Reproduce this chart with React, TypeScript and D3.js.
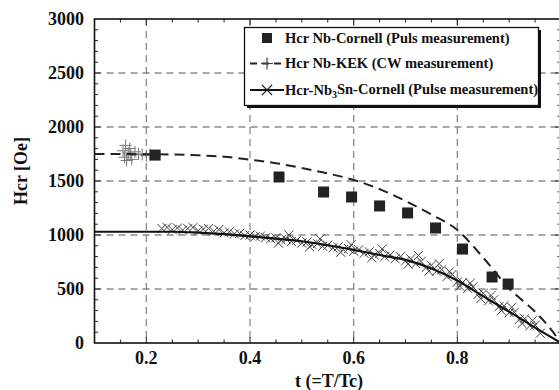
import * as d3 from "d3";
import { useEffect, useRef } from "react";

const W = 559;
const H = 390;
const plot = { left: 94.5, right: 561, top: 19, bottom: 343 };

// Hcr Nb-Cornell (pulse) squares
const cornellT = [0.217, 0.456, 0.542, 0.596, 0.65, 0.704, 0.758, 0.81, 0.867, 0.898];
const cornellH = [1740, 1537, 1398, 1352, 1269, 1204, 1065, 870, 611, 546];

// Hcr Nb-KEK (CW) fitted dashed curve and plus markers
const kekCurveT = [0.1, 0.2, 0.3, 0.35, 0.4, 0.45, 0.5, 0.55, 0.6, 0.65, 0.7, 0.75, 0.8, 0.85, 0.9, 0.95, 0.975, 1.0];
const kekCurveH = [1750, 1748, 1738, 1725, 1697, 1665, 1620, 1570, 1510, 1425, 1315, 1190, 1046, 790, 505, 290, 160, 0];
const kekPlusT = [0.155, 0.158, 0.16, 0.162, 0.165, 0.168, 0.17, 0.172, 0.178, 0.185, 0.192, 0.2, 0.207];
const kekPlusH = [1780, 1720, 1830, 1690, 1760, 1800, 1740, 1700, 1770, 1750, 1745, 1735, 1745];

// Hcr Nb3Sn-Cornell (pulse) line and cross markers
const snCurveT = [0.1, 0.2, 0.25, 0.3, 0.35, 0.4, 0.45, 0.5, 0.55, 0.6, 0.65, 0.7, 0.75, 0.8, 0.85, 0.9, 0.95, 1.0];
const snCurveH = [1030, 1030, 1030, 1022, 1008, 988, 966, 942, 905, 862, 815, 770, 690, 578, 432, 290, 142, 0];
const snCrossT = [
  0.23, 0.24, 0.25, 0.26, 0.27, 0.28, 0.29, 0.3, 0.31, 0.32, 0.33, 0.34, 0.35, 0.36, 0.37, 0.38,
  0.39, 0.4, 0.41, 0.42, 0.43, 0.44, 0.45, 0.46, 0.47, 0.48, 0.49, 0.5, 0.51, 0.52, 0.53, 0.54,
  0.55, 0.56, 0.57, 0.58, 0.59, 0.6, 0.61, 0.62, 0.63, 0.64, 0.65, 0.66, 0.67, 0.68, 0.69, 0.7,
  0.71, 0.72, 0.73, 0.74, 0.75, 0.76, 0.77, 0.78, 0.79, 0.8, 0.81, 0.82, 0.83, 0.84, 0.85, 0.86,
  0.87, 0.88, 0.89, 0.9, 0.91, 0.92, 0.93, 0.94, 0.95,
  0.455, 0.475, 0.515, 0.535, 0.575, 0.595, 0.635, 0.655, 0.705, 0.725, 0.745, 0.765, 0.785,
  0.805, 0.825, 0.845, 0.865, 0.885, 0.905, 0.925, 0.945, 0.96,
];
const snCrossH = [
  1060, 1070, 1050, 1065, 1045, 1060, 1070, 1040, 1055, 1060, 1035, 1050, 1020, 1030, 1010, 1015,
  995, 1000, 985, 990, 975, 965, 975, 955, 960, 940, 950, 925, 935, 910, 920, 895,
  905, 880, 890, 865, 875, 850, 865, 830, 845, 815, 830, 800, 815, 780, 800, 760,
  780, 735, 755, 700, 720, 665, 680, 615, 635, 565, 560, 505, 520, 450, 460, 390,
  400, 335, 345, 280, 285, 220, 225, 160, 165,
  925, 1000, 890, 965, 840, 910, 790, 870, 730, 810, 665, 735, 660, 525, 555, 410, 440, 300, 330, 180, 210, 90,
];

const xTicks = [0.2, 0.4, 0.6, 0.8];
const yTicks = [0, 500, 1000, 1500, 2000, 2500, 3000];

const legendLabels = [
  "Hcr Nb-Cornell (Puls measurement)",
  "Hcr Nb-KEK (CW measurement)",
  "Hcr-Nb3Sn-Cornell (Pulse measurement)",
];

const font = "'Liberation Serif', 'Times New Roman', serif";

function plusPath(r: number) {
  return `M${-r},0H${r}M0,${-r}V${r}`;
}

function drawChart(node: SVGSVGElement) {
  const svg = d3.select(node);
  svg.selectAll("*").remove();

  const x = d3.scaleLinear().domain([0.1, 1.0]).range([plot.left, plot.right]);
  const y = d3.scaleLinear().domain([0, 3000]).range([plot.bottom, plot.top]);

  svg.append("rect").attr("width", W).attr("height", H).attr("fill", "white");

  svg
    .append("defs")
    .append("clipPath")
    .attr("id", "plotclip")
    .append("rect")
    .attr("x", plot.left)
    .attr("y", plot.top)
    .attr("width", plot.right - plot.left)
    .attr("height", plot.bottom - plot.top + 2);

  // grid
  const grid = svg.append("g").attr("stroke", "#8a8a8a").attr("stroke-width", 1.3).attr("stroke-dasharray", "7,5");
  xTicks.forEach((t) => {
    grid.append("line").attr("x1", x(t)).attr("x2", x(t)).attr("y1", plot.top).attr("y2", plot.bottom);
  });
  yTicks.slice(1, -1).forEach((v) => {
    grid.append("line").attr("x1", plot.left).attr("x2", plot.right).attr("y1", y(v)).attr("y2", y(v));
  });

  // minor/major ticks, inward on all sides
  const ticks = svg.append("g").attr("stroke", "#222").attr("stroke-width", 1);
  d3.range(0.15, 1.0, 0.05).forEach((t) => {
    const major = Math.abs(Math.round(t * 10) - t * 10) < 1e-6 && Math.round(t * 10) % 2 === 0;
    const len = major ? 6 : 3.5;
    ticks.append("line").attr("x1", x(t)).attr("x2", x(t)).attr("y1", plot.bottom).attr("y2", plot.bottom - len);
    ticks.append("line").attr("x1", x(t)).attr("x2", x(t)).attr("y1", plot.top).attr("y2", plot.top + len);
  });
  d3.range(100, 3000, 100).forEach((v) => {
    const len = v % 500 === 0 ? 6 : 3.5;
    ticks.append("line").attr("x1", plot.left).attr("x2", plot.left + len).attr("y1", y(v)).attr("y2", y(v));
    ticks.append("line").attr("x1", plot.right - len).attr("x2", plot.right).attr("y1", y(v)).attr("y2", y(v));
  });

  // frame
  svg
    .append("rect")
    .attr("x", plot.left)
    .attr("y", plot.top)
    .attr("width", plot.right - plot.left)
    .attr("height", plot.bottom - plot.top)
    .attr("fill", "none")
    .attr("stroke", "#111")
    .attr("stroke-width", 1.6);

  // tick labels
  const labels = svg.append("g").attr("font-family", font).attr("font-weight", "bold").attr("font-size", 18).attr("fill", "#111");
  yTicks.forEach((v) => {
    labels.append("text").attr("x", 84).attr("y", y(v)).attr("dy", "0.34em").attr("text-anchor", "end").text(v);
  });
  xTicks.forEach((t) => {
    labels.append("text").attr("x", x(t)).attr("y", 364).attr("text-anchor", "middle").text(d3.format(".1f")(t));
  });

  // axis titles
  svg
    .append("text")
    .attr("font-family", font)
    .attr("font-weight", "bold")
    .attr("font-size", 18)
    .attr("fill", "#111")
    .attr("text-anchor", "middle")
    .attr("transform", "translate(27,171) rotate(-90)")
    .text("Hcr [Oe]");
  svg
    .append("text")
    .attr("font-family", font)
    .attr("font-weight", "bold")
    .attr("font-size", 18)
    .attr("fill", "#111")
    .attr("text-anchor", "middle")
    .attr("x", 329)
    .attr("y", 387)
    .text("t (=T/Tc)");

  const data = svg.append("g").attr("clip-path", "url(#plotclip)");
  const line = d3
    .line<[number, number]>()
    .x((d) => x(d[0]))
    .y((d) => y(d[1]))
    .curve(d3.curveMonotoneX);

  // Nb3Sn crosses
  const cross = d3.symbol().type(d3.symbolX).size(55);
  data
    .append("g")
    .selectAll("path")
    .data(d3.zip(snCrossT, snCrossH))
    .enter()
    .append("path")
    .attr("d", cross() as string)
    .attr("transform", (d) => `translate(${x(d[0])},${y(d[1])})`)
    .attr("fill", "none")
    .attr("stroke", "#444")
    .attr("stroke-width", 1);

  // Nb3Sn line
  data
    .append("path")
    .attr("d", line(d3.zip(snCurveT, snCurveH) as [number, number][]))
    .attr("fill", "none")
    .attr("stroke", "#111")
    .attr("stroke-width", 2.2);

  // KEK plus markers
  data
    .append("g")
    .selectAll("path")
    .data(d3.zip(kekPlusT, kekPlusH))
    .enter()
    .append("path")
    .attr("d", plusPath(6))
    .attr("transform", (d) => `translate(${x(d[0])},${y(d[1])})`)
    .attr("fill", "none")
    .attr("stroke", "#777")
    .attr("stroke-width", 1);

  // KEK dashed line
  data
    .append("path")
    .attr("d", line(d3.zip(kekCurveT, kekCurveH) as [number, number][]))
    .attr("fill", "none")
    .attr("stroke", "#222")
    .attr("stroke-width", 2)
    .attr("stroke-dasharray", "10,6");

  // Cornell squares
  data
    .append("g")
    .selectAll("rect")
    .data(d3.zip(cornellT, cornellH))
    .enter()
    .append("rect")
    .attr("x", (d) => x(d[0]) - 5.5)
    .attr("y", (d) => y(d[1]) - 5.5)
    .attr("width", 11)
    .attr("height", 11)
    .attr("fill", "#222");

  // legend
  const lg = svg.append("g");
  lg.append("rect").attr("x", 247).attr("y", 30).attr("width", 294).attr("height", 78).attr("fill", "#111");
  lg.append("rect")
    .attr("x", 244.5)
    .attr("y", 27.5)
    .attr("width", 294)
    .attr("height", 78)
    .attr("fill", "white")
    .attr("stroke", "#111")
    .attr("stroke-width", 1.3);

  const rowY = [38, 63.5, 90];
  lg.append("rect").attr("x", 262).attr("y", rowY[0] - 5).attr("width", 10).attr("height", 10).attr("fill", "#222");
  lg.append("line")
    .attr("x1", 250)
    .attr("x2", 284)
    .attr("y1", rowY[1])
    .attr("y2", rowY[1])
    .attr("stroke", "#222")
    .attr("stroke-width", 2)
    .attr("stroke-dasharray", "7,5");
  lg.append("path").attr("d", plusPath(6)).attr("transform", `translate(267,${rowY[1]})`).attr("stroke", "#444").attr("stroke-width", 1.2);
  lg.append("line").attr("x1", 250).attr("x2", 284).attr("y1", rowY[2]).attr("y2", rowY[2]).attr("stroke", "#111").attr("stroke-width", 2);
  lg.append("path")
    .attr("d", d3.symbol().type(d3.symbolX).size(70)() as string)
    .attr("transform", `translate(267,${rowY[2]})`)
    .attr("fill", "none")
    .attr("stroke", "#111")
    .attr("stroke-width", 1.2);

  const lt = lg.append("g").attr("font-family", font).attr("font-weight", "bold").attr("font-size", 14.5).attr("fill", "#111");
  lt.append("text").attr("x", 285).attr("y", rowY[0]).attr("dy", "0.34em").text(legendLabels[0]);
  lt.append("text").attr("x", 285).attr("y", rowY[1]).attr("dy", "0.34em").text(legendLabels[1]);
  const t3 = lt.append("text").attr("x", 285).attr("y", rowY[2]).attr("dy", "0.34em");
  t3.append("tspan").text("Hcr-Nb");
  t3.append("tspan").attr("font-size", 10).attr("dy", "0.3em").text("3");
  t3.append("tspan").attr("dy", "-0.3em").text("Sn-Cornell (Pulse measurement)");
}

function App() {
  const ref = useRef<SVGSVGElement>(null);
  useEffect(() => {
    if (ref.current) drawChart(ref.current);
  }, []);
  return (
    <div style={{ position: "absolute", left: 0, top: 0 }}>
      <svg ref={ref} width={W} height={H} style={{ display: "block" }}></svg>
    </div>
  );
}

export default App;
